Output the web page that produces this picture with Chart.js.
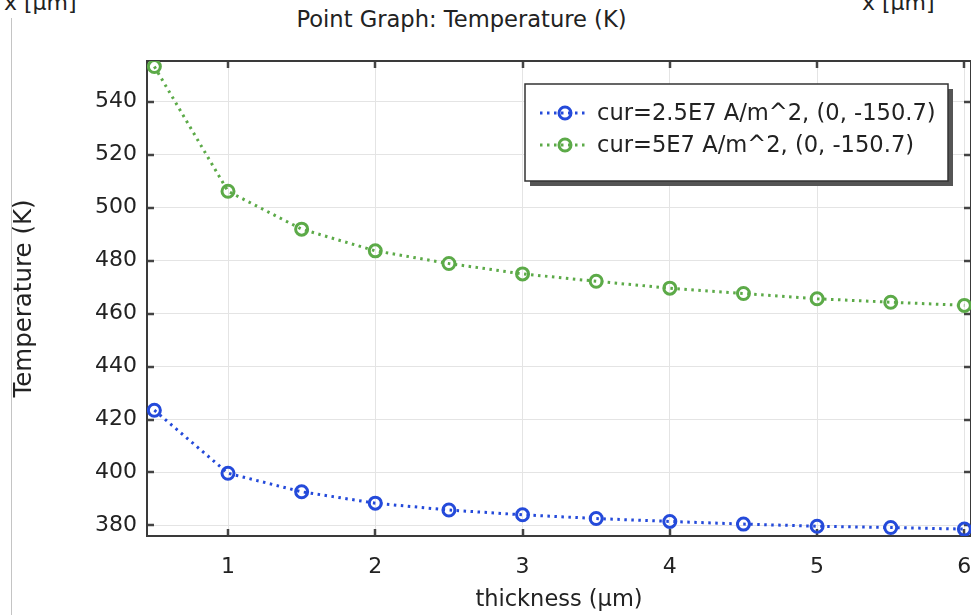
<!DOCTYPE html>
<html>
<head>
<meta charset="utf-8">
<script src="https://cdn.jsdelivr.net/npm/chart.js@4.4.1/dist/chart.umd.min.js"></script>
<style>
  html, body { margin: 0; padding: 0; background: #fff; overflow: hidden; }
  body { width: 971px; height: 615px; position: relative; font-family: "DejaVu Sans", sans-serif; }
  #wrap { position: absolute; left: 0; top: 0; width: 980px; height: 615px; }
  .hdr { position: absolute; font-size: 22px; color: #222; white-space: nowrap; }
  #title { left: 0; width: 923px; top: 6px; text-align: center; font-size: 22.6px; }
  #xl1 { left: 4px; top: -10px; }
  #xl2 { left: 862px; top: -10px; }
  #rule { position: absolute; left: 11px; top: 18px; width: 1px; height: 600px; background: #c4c4c4; }
</style>
</head>
<body>
<div class="hdr" id="xl1">x [µm]</div>
<div class="hdr" id="xl2">x [µm]</div>
<div id="rule"></div>
<div class="hdr" id="title">Point Graph: Temperature (K)</div>
<div id="wrap"><canvas id="chart"></canvas></div>
<script>
// thickness sweep (µm)
const thickness = [0.5, 1, 1.5, 2, 2.5, 3, 3.5, 4, 4.5, 5, 5.5, 6];

// temperature at point (0, -150.7) for the two current densities
const tempLow = [423.5, 399.7, 392.7, 388.4, 385.8, 384.0, 382.6, 381.5, 380.5, 379.7, 379.2, 378.6];
const tempHigh = [553.3, 506.2, 491.9, 483.7, 478.9, 475.0, 472.2, 469.6, 467.6, 465.6, 464.3, 463.1];

const labelLow = 'cur=2.5E7 A/m^2, (0, -150.7)';
const labelHigh = 'cur=5E7 A/m^2, (0, -150.7)';

const BLUE = 'rgb(36, 74, 218)';
const GREEN = 'rgb(92, 170, 72)';
const FONT = '"DejaVu Sans", sans-serif';
const DASH = [2.5, 4.5];

function series(xs, ys) {
    return xs.map((x, i) => ({ x: x, y: ys[i] }));
}

function lineStyle(color) {
    return {
        borderColor: color,
        backgroundColor: color,
        borderWidth: 3,
        borderDash: DASH,
        pointRadius: 6,
        pointHoverRadius: 6,
        pointBorderWidth: 3,
        pointBorderColor: color,
        pointBackgroundColor: 'rgba(255,255,255,0)',
        tension: 0,
        fill: false
    };
}

// plot frame with inward tick marks on all four sides
const framePlugin = {
    id: 'frame',
    beforeDatasetsDraw(chart) {
        const { ctx, chartArea: a, scales } = chart;
        const len = 7;
        ctx.save();
        ctx.strokeStyle = '#444';
        ctx.lineWidth = 2.5;
        scales.x.ticks.forEach(t => {
            const px = Math.round(scales.x.getPixelForValue(t.value));
            ctx.beginPath();
            ctx.moveTo(px, a.bottom); ctx.lineTo(px, a.bottom - len);
            ctx.moveTo(px, a.top); ctx.lineTo(px, a.top + len);
            ctx.stroke();
        });
        scales.y.ticks.forEach(t => {
            const py = Math.round(scales.y.getPixelForValue(t.value));
            ctx.beginPath();
            ctx.moveTo(a.left, py); ctx.lineTo(a.left + len, py);
            ctx.moveTo(a.right, py); ctx.lineTo(a.right - len, py);
            ctx.stroke();
        });
        ctx.strokeStyle = '#3a3a3a';
        ctx.lineWidth = 2;
        ctx.strokeRect(a.left, a.top, a.right - a.left, a.bottom - a.top);
        ctx.restore();
    }
};

// boxed legend with drop shadow in the upper right of the plot
const boxLegend = {
    id: 'boxLegend',
    afterDraw(chart) {
        const { ctx, chartArea: a } = chart;
        const w = 423, h = 97;
        const left = a.right - 446, top = a.top + 23;
        ctx.save();
        ctx.fillStyle = '#555';
        ctx.fillRect(left + 5, top + 5, w, h);
        ctx.fillStyle = '#fff';
        ctx.fillRect(left, top, w, h);
        ctx.strokeStyle = '#333';
        ctx.lineWidth = 1.5;
        ctx.strokeRect(left, top, w, h);
        ctx.font = '22.6px ' + FONT;
        ctx.textBaseline = 'middle';
        chart.data.datasets.forEach((ds, i) => {
            const y = top + 29 + i * 32;
            ctx.strokeStyle = ds.borderColor;
            ctx.lineWidth = 3;
            ctx.setLineDash(DASH);
            ctx.beginPath();
            ctx.moveTo(left + 15, y); ctx.lineTo(left + 64, y);
            ctx.stroke();
            ctx.setLineDash([]);
            ctx.beginPath();
            ctx.arc(left + 40, y, 6, 0, Math.PI * 2);
            ctx.stroke();
            ctx.fillStyle = '#222';
            ctx.fillText(ds.label, left + 72, y + 1);
        });
        ctx.restore();
    }
};

new Chart(document.getElementById('chart'), {
    type: 'line',
    data: {
        datasets: [
            Object.assign({ label: labelLow, data: series(thickness, tempLow) }, lineStyle(BLUE)),
            Object.assign({ label: labelHigh, data: series(thickness, tempHigh) }, lineStyle(GREEN))
        ]
    },
    options: {
        responsive: true,
        maintainAspectRatio: false,
        animation: false,
        layout: { padding: { top: 61, right: 7, bottom: 0, left: 0 } },
        scales: {
            x: {
                type: 'linear',
                min: 0.45,
                max: 6.045,
                grid: { color: '#e4e4e4', lineWidth: 1, drawTicks: false },
                border: { display: false },
                ticks: {
                    stepSize: 1,
                    includeBounds: false,
                    padding: 18,
                    color: '#222',
                    font: { family: FONT, size: 22 },
                    maxRotation: 0
                },
                title: {
                    display: true,
                    text: 'thickness (µm)',
                    color: '#222',
                    font: { family: FONT, size: 22.5 },
                    padding: { top: 0, bottom: 1 }
                },
                afterFit(scale) {
                    scale.height = 79;
                    scale.paddingLeft = 0;
                    scale.paddingRight = 0;
                }
            },
            y: {
                min: 376,
                max: 555.4,
                grid: { color: '#e4e4e4', lineWidth: 1, drawTicks: false },
                border: { display: false },
                ticks: {
                    stepSize: 20,
                    includeBounds: false,
                    padding: 10,
                    color: '#222',
                    font: { family: FONT, size: 22 }
                },
                title: {
                    display: true,
                    text: 'Temperature (K)',
                    color: '#222',
                    font: { family: FONT, size: 24.5 },
                    padding: { top: 10, bottom: 0 }
                },
                afterFit(scale) {
                    scale.width = 147;
                    scale.paddingTop = 0;
                    scale.paddingBottom = 0;
                }
            }
        },
        plugins: {
            legend: { display: false },
            title: { display: false },
            tooltip: { enabled: false }
        }
    },
    plugins: [framePlugin, boxLegend]
});
</script>
</body>
</html>
